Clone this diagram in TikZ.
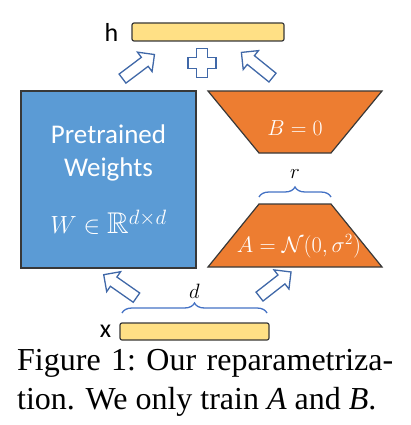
\documentclass[tikz,border=0pt]{standalone}
\usepackage{amssymb}
\usepackage{graphicx}
\usepackage[no-math]{fontspec}
\setmainfont{Liberation Serif}
\newfontfamily\calibri{Carlito}
\usetikzlibrary{positioning,shapes.arrows,decorations.pathreplacing}

\definecolor{wblue}{HTML}{5B9BD5}
\definecolor{lorange}{HTML}{ED7D31}
\definecolor{vecyellow}{HTML}{FFE085}
\definecolor{edgegray}{HTML}{383838}
\definecolor{arrblue}{HTML}{4068A8}
\definecolor{braceblue}{HTML}{4472C4}

\newcommand\boxfont{\calibri\fontsize{27}{33}\selectfont}
\newcommand\lblfont{\calibri\fontsize{26}{30}\selectfont}
\newcommand\mathfont{\fontsize{22}{26}\selectfont}
\newcommand\wmathfont{\fontsize{30}{33}\selectfont}
\newcommand\capfont{\fontsize{32}{39}\selectfont}

\tikzset{
  vecbar/.style={draw=edgegray, line width=1.2pt, fill=vecyellow, rounded corners=2pt,
    minimum width=#1, minimum height=18pt, inner sep=0pt},
  lowrank/.style={draw=edgegray, line width=1.2pt, fill=lorange, line join=miter},
  blockarrow/.style={single arrow, draw=arrblue, fill=white, line width=1.3pt, inner sep=5pt,
    minimum height=40pt, single arrow head extend=6.5pt, rotate=#1, anchor=tail},
  vecbrace/.style={draw=braceblue, line width=1.3pt, decorate,
    decoration={brace, amplitude=10pt}},
}

\begin{document}
\begin{tikzpicture}[x=1pt,y=-1pt]
\useasboundingbox (0,0) rectangle (411,425);

% vectors
\node[vecbar=152pt] (h) at (208,32) {};
\node[vecbar=149pt, minimum height=17pt] (x) at (194.5,331.5) {};
\node[font=\lblfont, inner sep=0pt, left=13pt of h] (hlbl) {h};
\node[font=\lblfont, inner sep=0pt, left=8pt of x] (xlbl) {x};

% pretrained weights
\node[draw=edgegray, line width=1.2pt, fill=wblue, minimum width=175pt, minimum height=177pt,
  text=white, font=\boxfont, align=center] (W) at (108.5,179.5)
  {Pretrained\\Weights\\[24pt]{\wmathfont$W\in\mathbb{R}^{d\times d}$}};

% low rank matrices
\draw[lowrank] (208,91) -- (382,91) -- (331,153) -- (259,153) -- cycle;
\draw[lowrank] (259,204) -- (331,204) -- (382,267) -- (208,267) -- cycle;
\node[font=\mathfont, text=white] (B) at (295,128) {\scalebox{1.05}{$B=0$}};
\node[font=\mathfont, text=white] (A) at (299,246) {\scalebox{1.08}{$A=\mathcal{N}(0,\sigma^2)$}};

% braces
\draw[vecbrace] (259,197) -- (331,197) node[midway, above=18pt, inner sep=0pt, font=\mathfont] (r) {$r$};
\draw[vecbrace] (122,313) -- (267,313) node[midway, above=14pt, inner sep=0pt, font=\mathfont] (d) {$d$};

% block arrows
\node[blockarrow=38] (xA) at (259,297) {};
\node[blockarrow=145] (xW) at (137,298) {};
\node[blockarrow=37] (Wh) at (122,79) {};
\node[blockarrow=141] (Bh) at (273,78) {};

% plus
\coordinate (plus) at (202,63);
\draw[arrblue, line width=1.3pt, fill=white] (plus) ++(-5.5,-14.5) -- ++(11,0) -- ++(0,9)
  -- ++(8.5,0) -- ++(0,11) -- ++(-8.5,0) -- ++(0,9) -- ++(-11,0) -- ++(0,-9)
  -- ++(-8.5,0) -- ++(0,-11) -- ++(8.5,0) -- cycle;

% caption
\node[anchor=base west, inner sep=0pt, font=\capfont] (cap1) at (17,370)
  {\makebox[376pt][s]{Figure 1:\ Our reparametriza-}};
\node[anchor=base west, inner sep=0pt, font=\capfont] (cap2) at (17,409)
  {tion. We only train \textit{A} and \textit{B}.};
\end{tikzpicture}
\end{document}
